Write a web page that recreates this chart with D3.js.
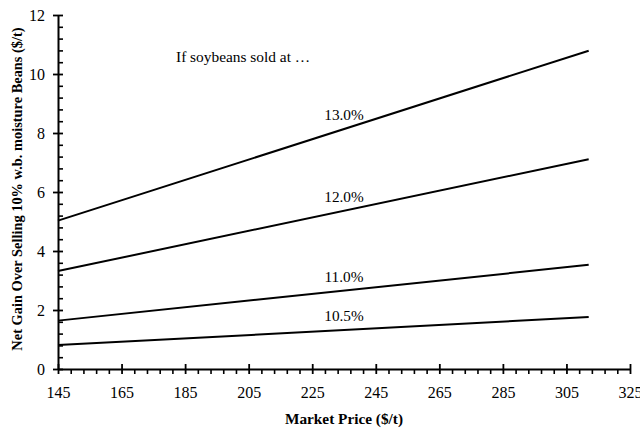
<!DOCTYPE html>
<html>
<head>
<meta charset="utf-8">
<script src="https://cdn.jsdelivr.net/npm/d3@7"></script>
<style>
  html, body { margin: 0; padding: 0; background: #fff; }
  svg { display: block; }
  text { font-family: "Liberation Serif", "Times New Roman", serif; fill: #000; }
</style>
</head>
<body>
<svg id="chart" width="640" height="430"></svg>
<script>
// Market price endpoints ($/t)
const prices = [145, 312];
// Net gain ($/t) per moisture level at each price
const gain105 = [0.81, 1.76];
const gain110 = [1.64, 3.53];
const gain120 = [3.32, 7.11];
const gain130 = [5.03, 10.79];
const seriesLabels = ["10.5%", "11.0%", "12.0%", "13.0%"];
const labelPrice = 235;

const xMajorTicks = [145, 165, 185, 205, 225, 245, 265, 285, 305, 325];
const yMajorTicks = [0, 2, 4, 6, 8, 10, 12];

const series = [gain105, gain110, gain120, gain130].map((vals, i) => ({
  label: seriesLabels[i],
  points: prices.map((p, j) => ({ price: p, gain: vals[j] }))
}));

const svg = d3.select("#chart");
const margin = { left: 58, right: 10, top: 15, bottom: 61 };
const W = 640, H = 430;

const x = d3.scaleLinear().domain([145, 325]).range([margin.left, W - margin.right]);
const y = d3.scaleLinear().domain([0, 12]).range([H - margin.bottom, margin.top]);

// minor ticks
const xMinor = d3.range(145, 325.001, 4).filter(v => !xMajorTicks.includes(v));
const yMinor = d3.range(0, 12.001, 0.4).map(v => +v.toFixed(1)).filter(v => !yMajorTicks.includes(v));

// X axis
const gx = svg.append("g").attr("transform", `translate(0,${y(0)})`);
gx.append("g")
  .call(d3.axisBottom(x).tickValues(xMinor).tickSize(5).tickFormat(""))
  .call(g => g.select(".domain").remove())
  .selectAll("line").attr("stroke", "#000").attr("stroke-width", 1.6);
const gxMaj = gx.append("g")
  .call(d3.axisBottom(x).tickValues(xMajorTicks).tickSizeInner(5).tickSizeOuter(0).tickPadding(13).tickFormat(d3.format("d")));
gxMaj.select(".domain").attr("stroke", "#000").attr("stroke-width", 2);
gxMaj.selectAll(".tick line").attr("y1", -5).attr("y2", 5).attr("stroke", "#000").attr("stroke-width", 1.8);
gxMaj.selectAll(".tick text").attr("font-size", 16).attr("font-family", "Liberation Serif");

// Y axis
const gy = svg.append("g").attr("transform", `translate(${x(145)},0)`);
gy.append("g")
  .call(d3.axisRight(y).tickValues(yMinor).tickSize(5).tickFormat(""))
  .call(g => g.select(".domain").remove())
  .selectAll("line").attr("stroke", "#000").attr("stroke-width", 1.6);
const gyMaj = gy.append("g")
  .call(d3.axisLeft(y).tickValues(yMajorTicks).tickSizeInner(5).tickSizeOuter(0).tickPadding(8).tickFormat(d3.format("d")));
gyMaj.select(".domain").attr("stroke", "#000").attr("stroke-width", 2);
gyMaj.selectAll(".tick line").attr("x1", -5).attr("x2", 5).attr("stroke", "#000").attr("stroke-width", 1.8);
gyMaj.selectAll(".tick text").attr("font-size", 16).attr("font-family", "Liberation Serif");

// Lines
const line = d3.line().x(d => x(d.price)).y(d => y(d.gain));
svg.append("g").selectAll("path")
  .data(series)
  .join("path")
  .attr("d", d => line(d.points))
  .attr("fill", "none")
  .attr("stroke", "#000")
  .attr("stroke-width", 2);

// Series labels above each line
const interp = (pts, p) => {
  const a = pts[0], b = pts[pts.length - 1];
  return a.gain + (b.gain - a.gain) * (p - a.price) / (b.price - a.price);
};
svg.append("g").selectAll("text")
  .data(series)
  .join("text")
  .attr("x", x(labelPrice))
  .attr("y", d => y(interp(d.points, labelPrice)) - 9)
  .attr("text-anchor", "middle")
  .attr("font-size", 15.3)
  .text(d => d.label);

// Annotation
svg.append("text")
  .attr("x", 176)
  .attr("y", 62)
  .attr("font-size", 15.4)
  .text("If soybeans sold at \u2026");

// Axis titles
svg.append("text")
  .attr("x", (x.range()[0] + x.range()[1]) / 2)
  .attr("y", 424)
  .attr("text-anchor", "middle")
  .attr("font-size", 15.3)
  .attr("font-weight", "bold")
  .text("Market Price ($/t)");

svg.append("text")
  .attr("transform", `translate(22,${(y.range()[0] + y.range()[1]) / 2 - 3}) rotate(-90)`)
  .attr("text-anchor", "middle")
  .attr("font-size", 14.4)
  .attr("font-weight", "bold")
  .text("Net Gain Over Selling 10% w.b. moisture Beans ($/t)");
</script>
</body>
</html>
